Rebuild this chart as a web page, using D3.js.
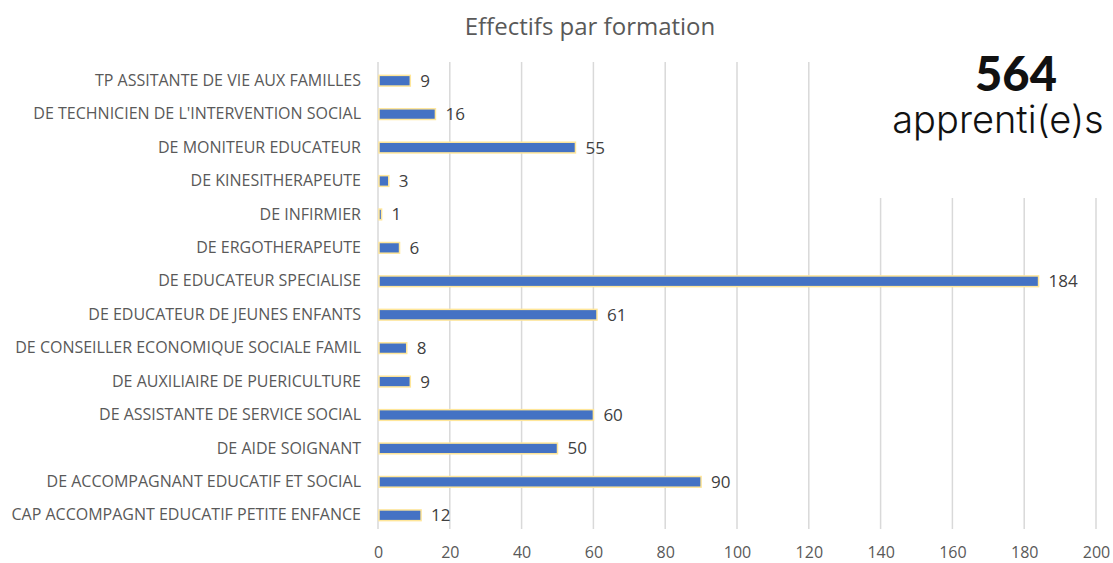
<!DOCTYPE html>
<html>
<head>
<meta charset="utf-8">
<script src="https://cdn.jsdelivr.net/npm/d3@7"></script>
<style>
  body { margin: 0; background: #fff; }
  text { font-family: "Open Sans", "Liberation Sans", sans-serif; }
</style>
</head>
<body>
<div id="vis"></div>
<script>
// data, top to bottom as shown
var formations = [
  "TP ASSITANTE DE VIE AUX FAMILLES",
  "DE TECHNICIEN DE L'INTERVENTION SOCIAL",
  "DE MONITEUR EDUCATEUR",
  "DE KINESITHERAPEUTE",
  "DE INFIRMIER",
  "DE ERGOTHERAPEUTE",
  "DE EDUCATEUR SPECIALISE",
  "DE EDUCATEUR DE JEUNES ENFANTS",
  "DE CONSEILLER ECONOMIQUE SOCIALE FAMIL",
  "DE AUXILIAIRE DE PUERICULTURE",
  "DE ASSISTANTE DE SERVICE SOCIAL",
  "DE AIDE SOIGNANT",
  "DE ACCOMPAGNANT EDUCATIF ET SOCIAL",
  "CAP ACCOMPAGNT EDUCATIF PETITE ENFANCE"
];
var effectifs = [9, 16, 55, 3, 1, 6, 184, 61, 8, 9, 60, 50, 90, 12];
var xTicks = [0, 20, 40, 60, 80, 100, 120, 140, 160, 180, 200];
var total = "564";
var totalLabel = "apprenti(e)s";

var width = 1113, height = 563;
var margin = { top: 64, right: 17, bottom: 31, left: 378 };
var font = '"Open Sans", "Liberation Sans", sans-serif';

var svg = d3.select('#vis').append('svg')
  .attr('width', width)
  .attr('height', height);

var x = d3.scaleLinear().domain([0, 200]).range([margin.left, width - margin.right]);
var y = d3.scaleBand().domain(formations)
  .range([margin.top, height - margin.bottom])
  .paddingInner(0.68).paddingOuter(0.34);

// title
svg.append('text')
  .attr('x', 590).attr('y', 35)
  .attr('text-anchor', 'middle')
  .attr('fill', '#595959')
  .style('font-size', '24px')
  .text('Effectifs par formation');

// gridlines
svg.append('g')
  .selectAll('line')
  .data(xTicks.slice(1))
  .join('line')
  .attr('x1', function (d) { return x(d); })
  .attr('x2', function (d) { return x(d); })
  .attr('y1', margin.top - 2)
  .attr('y2', height - margin.bottom - 3)
  .attr('stroke', '#d9d9d9')
  .attr('stroke-width', 1.5);

// x axis (labels only)
var xAxis = svg.append('g')
  .attr('transform', 'translate(0,' + (height - margin.bottom) + ')')
  .call(d3.axisBottom(x).tickValues(xTicks).tickSize(0).tickPadding(15));
xAxis.select('.domain').remove();
xAxis.selectAll('text')
  .attr('fill', '#595959')
  .style('font-size', '16px')
  .style('font-family', font);

// y axis
var yAxis = svg.append('g')
  .attr('transform', 'translate(' + margin.left + ',0)')
  .call(d3.axisLeft(y).tickSize(0).tickPadding(17));
yAxis.select('.domain')
  .attr('stroke', '#d9d9d9')
  .attr('stroke-width', 1.5)
  .attr('d', 'M0,' + (margin.top - 2) + 'V' + (height - margin.bottom - 3));
yAxis.selectAll('text')
  .attr('fill', '#595959')
  .style('font-size', '16px')
  .style('font-family', font);

// bars
svg.append('g')
  .selectAll('rect')
  .data(formations)
  .join('rect')
  .attr('x', x(0) + 1)
  .attr('y', function (d) { return y(d); })
  .attr('width', function (d, i) { return x(effectifs[i]) - x(0) - 1; })
  .attr('height', y.bandwidth())
  .attr('fill', '#4472c4')
  .attr('stroke', '#ffe699')
  .attr('stroke-width', 1.5);

// value labels
svg.append('g')
  .selectAll('text')
  .data(formations)
  .join('text')
  .attr('x', function (d, i) { return x(effectifs[i]) + 10; })
  .attr('y', function (d) { return y(d) + y.bandwidth() / 2; })
  .attr('dy', '0.35em')
  .attr('fill', '#404040')
  .style('font-size', '17px')
  .text(function (d, i) { return effectifs[i]; });

// total box covering the gridlines
svg.append('rect')
  .attr('x', 868).attr('y', 48)
  .attr('width', 245).attr('height', 150)
  .attr('fill', '#fff');

svg.append('text')
  .attr('x', 1016).attr('y', 91)
  .attr('text-anchor', 'middle')
  .attr('fill', '#111')
  .style('font-family', 'Lato, "Open Sans", sans-serif')
  .style('font-weight', 900)
  .style('font-size', '47px')
  .text(total);

svg.append('text')
  .attr('x', 998).attr('y', 133)
  .attr('text-anchor', 'middle')
  .attr('fill', '#111')
  .style('font-family', 'Inter, "Open Sans", sans-serif')
  .style('font-weight', 300)
  .style('font-size', '38px')
  .text(totalLabel);
</script>
</body>
</html>
